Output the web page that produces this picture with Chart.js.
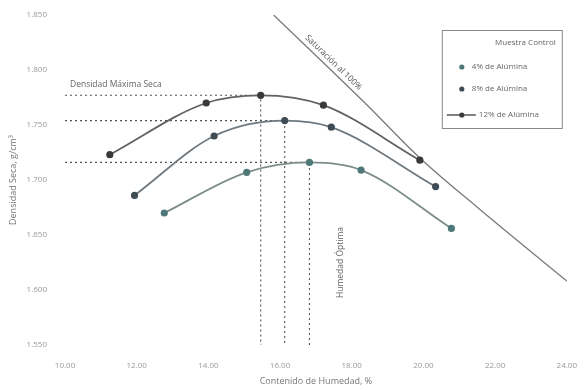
<!DOCTYPE html>
<html>
<head>
<meta charset="utf-8">
<script src="https://cdn.jsdelivr.net/npm/chart.js@4"></script>
<style>
  html, body { margin: 0; padding: 0; background: #fff; }
  #wrap { width: 585px; height: 391px; }
</style>
</head>
<body>
<div id="wrap"><canvas id="Chart1"></canvas></div>
<script>
// valores
const humedad4 = [12.77, 15.07, 16.82, 18.26, 20.78]
const densidad4 = [1.670, 1.707, 1.716, 1.709, 1.656]
const humedad8 = [11.94, 14.16, 16.13, 17.43, 20.34]
const densidad8 = [1.686, 1.740, 1.754, 1.748, 1.694]
const humedad12 = [11.25, 13.94, 15.46, 17.21, 19.90]
const densidad12 = [1.723, 1.770, 1.777, 1.768, 1.718]
const humedadSat = [15.82, 18.37, 19.90, 21.51, 24.08]
const densidadSat = [1.850, 1.770, 1.720, 1.675, 1.606]
// humedad optima y densidad maxima de cada muestra
const humedadOptima = [16.82, 16.13, 15.46]
const densidadMaxima = [1.716, 1.754, 1.777]
const leyenda = ['4% de Alúmina', '8% de Alúmina', '12% de Alúmina']
const xMin = 10, xMax = 24, xStep = 2
const yMin = 1.55, yMax = 1.85, yStep = 0.05

const toPoints = (xs, ys) => xs.map((x, i) => ({ x: x, y: ys[i] }))

const curve = (label, xs, ys, line, dot) => ({
  label: label,
  data: toPoints(xs, ys),
  borderColor: line,
  backgroundColor: dot,
  pointBackgroundColor: dot,
  pointBorderColor: dot,
  pointRadius: 2.7,
  borderWidth: 1.8,
  cubicInterpolationMode: 'monotone',
  fill: false
})

const guides = humedadOptima.map((h, i) => ({
  label: 'guia' + i,
  data: [{ x: xMin, y: densidadMaxima[i] }, { x: h, y: densidadMaxima[i] }, { x: h, y: yMin }],
  borderColor: '#555',
  borderWidth: 1.1,
  borderDash: [2, 3],
  pointRadius: 0,
  tension: 0,
  fill: false
}))

const annotations = {
  id: 'annotations',
  afterDatasetsDraw(chart) {
    const { ctx, scales: { x, y }, chartArea } = chart
    ctx.save()
    ctx.fillStyle = '#666'
    ctx.font = '8.5px "Open Sans", sans-serif'
    ctx.textBaseline = 'bottom'
    ctx.textAlign = 'left'
    ctx.fillText('Densidad Máxima Seca', x.getPixelForValue(xMin) + 5, y.getPixelForValue(densidadMaxima[2]) - 6)

    // humedad optima, vertical
    ctx.save()
    ctx.translate(x.getPixelForValue(humedadOptima[0]) + 31, y.getPixelForValue(1.625))
    ctx.rotate(-Math.PI / 2)
    ctx.textAlign = 'center'
    ctx.textBaseline = 'middle'
    ctx.fillText('Humedad Óptima', 0, 0)
    ctx.restore()

    // texto de saturacion
    const x1 = x.getPixelForValue(humedadSat[0]), y1 = y.getPixelForValue(densidadSat[0])
    const x2 = x.getPixelForValue(humedadSat[1]), y2 = y.getPixelForValue(densidadSat[1])
    const ang = Math.atan2(y2 - y1, x2 - x1)
    ctx.save()
    ctx.translate(x1 + (x2 - x1) * 0.6, y1 + (y2 - y1) * 0.6)
    ctx.rotate(ang)
    ctx.textAlign = 'center'
    ctx.textBaseline = 'bottom'
    ctx.fillStyle = '#555'
    ctx.fillText('Saturación al 100%', 0, -3)
    ctx.restore()

    // leyenda
    const bw = 120, bh = 98
    const bx = chartArea.right - 5 - bw, by = chartArea.top + 15
    ctx.strokeStyle = '#888'
    ctx.lineWidth = 1
    ctx.strokeRect(bx + 0.5, by + 0.5, bw, bh)
    ctx.font = '8px "Open Sans", sans-serif'
    ctx.fillStyle = '#666'
    ctx.textAlign = 'right'
    ctx.textBaseline = 'middle'
    ctx.fillText('Muestra Control', bx + bw - 6, by + 13)
    const rows = [37, 59, 85]
    leyenda.forEach((name, i) => {
      const ds = chart.data.datasets[i]
      const ry = by + rows[i]
      if (i === 2) {
        ctx.strokeStyle = ds.borderColor
        ctx.lineWidth = 1.6
        ctx.beginPath()
        ctx.moveTo(bx + 5, ry)
        ctx.lineTo(bx + 34, ry)
        ctx.stroke()
      }
      ctx.fillStyle = ds.pointBackgroundColor
      ctx.beginPath()
      ctx.arc(bx + 20, ry, 2.6, 0, Math.PI * 2)
      ctx.fill()
      ctx.fillStyle = '#666'
      ctx.textAlign = 'left'
      ctx.fillText(name, i === 2 ? bx + 37 : bx + 30, ry)
    })
    ctx.restore()
  }
}

const ctx1 = document.getElementById('Chart1')
new Chart(ctx1, {
  type: 'line',
  data: {
    datasets: [
      curve(leyenda[0], humedad4, densidad4, '#7d8c8c', '#4f7878'),
      curve(leyenda[1], humedad8, densidad8, '#6f797f', '#3d4c55'),
      curve(leyenda[2], humedad12, densidad12, '#626262', '#3a3a3a'),
      {
        label: 'Saturación al 100%',
        data: toPoints(humedadSat, densidadSat),
        borderColor: '#7a7a7a',
        borderWidth: 1.3,
        pointRadius: 0,
        cubicInterpolationMode: 'monotone',
        fill: false
      },
      ...guides
    ]
  },
  plugins: [annotations],
  options: {
    responsive: true,
    maintainAspectRatio: false,
    animation: false,
    layout: { padding: { left: 4, right: 15, top: 15, bottom: 4 } },
    plugins: {
      legend: { display: false },
      tooltip: { enabled: false }
    },
    scales: {
      x: {
        type: 'linear',
        min: xMin,
        max: xMax,
        afterFit: (scale) => { scale.height = 42 },
        grid: { display: false },
        border: { display: false },
        ticks: {
          stepSize: xStep,
          padding: 8,
          color: '#999',
          font: { family: '"Open Sans", sans-serif', size: 8 },
          callback: (v) => v.toFixed(2)
        },
        title: {
          display: true,
          text: 'Contenido de Humedad, %',
          color: '#777',
          padding: { top: 0, bottom: 0 },
          font: { family: '"Open Sans", sans-serif', size: 9 }
        }
      },
      y: {
        type: 'linear',
        min: yMin,
        max: yMax,
        afterFit: (scale) => { scale.width = 61 },
        grid: { display: false },
        border: { display: false },
        ticks: {
          stepSize: yStep,
          padding: 10,
          color: '#999',
          font: { family: '"Open Sans", sans-serif', size: 8 },
          callback: (v) => v.toFixed(3)
        },
        title: {
          display: true,
          text: 'Densidad Seca, g/cm³',
          color: '#777',
          padding: { top: 4, bottom: 4 },
          font: { family: '"Open Sans", sans-serif', size: 9 }
        }
      }
    }
  }
})
</script>
</body>
</html>
